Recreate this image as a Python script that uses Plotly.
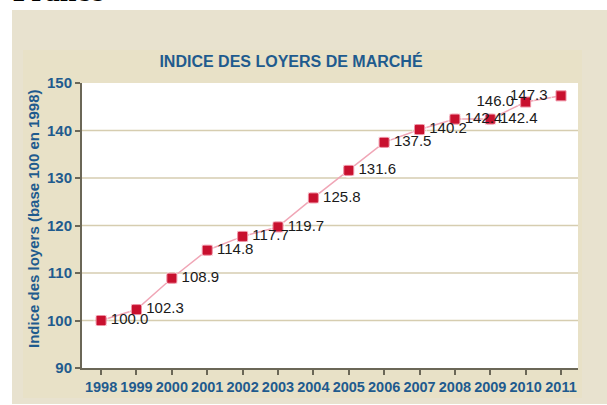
import plotly.graph_objects as go

# ---------------- data ----------------
years = list(range(1998, 2012))
values = [100.0, 102.3, 108.9, 114.8, 117.7, 119.7, 125.8, 131.6,
          137.5, 140.2, 142.4, 142.4, 146.0, 147.3]
value_labels = ["100.0", "102.3", "108.9", "114.8", "117.7", "119.7", "125.8",
                "131.6", "137.5", "140.2", "142.4", "142.4", "146.0", "147.3"]
y_ticks = [90, 100, 110, 120, 130, 140, 150]
grid_levels = [100, 110, 120, 130, 140]
chart_title = "INDICE DES LOYERS DE MARCHÉ"
y_title = "Indice des loyers (base 100 en 1998)"
page_title = "France"

# ---------------- layout geometry ----------------
W, H = 607, 405
L, R, T, B = 82, 578, 83, 368


def px(x):
    return (x - L) / (R - L)


def py(y):
    return (B - y) / (B - T)


BLUE = "#1F5B8E"
AXIS = "#6B6757"
OUTER = "#E8E2CF"
INNER = "#E8E1C7"
GRID = "#D6CDB0"

fig = go.Figure()

# connecting line + markers
fig.add_trace(go.Scatter(
    x=years, y=values, mode="lines+markers",
    line=dict(color="#F0A6B6", width=1.5),
    marker=dict(symbol="square", size=10, color="#C8102E",
                line=dict(color="#EE8FA2", width=1)),
    hoverinfo="x+y", showlegend=False,
))

# value labels (invisible marker sizes only control label offsets)
n = len(years)
positions = ["middle right"] * (n - 2) + ["middle left", "middle left"]
pad_sizes = [14] * (n - 2) + [17, 20]
fig.add_trace(go.Scatter(
    x=years, y=values, mode="markers+text",
    text=value_labels, textposition=positions,
    textfont=dict(family="Liberation Sans, Arial, sans-serif", size=15, color="#1A1A1A"),
    marker=dict(size=pad_sizes, color="rgba(0,0,0,0)"),
    hoverinfo="skip", showlegend=False,
))

shapes = [
    dict(type="rect", xref="paper", yref="paper", x0=px(12), x1=px(W + 5),
         y0=py(10), y1=py(404), fillcolor=OUTER, line=dict(width=0), layer="below"),
    dict(type="rect", xref="paper", yref="paper", x0=px(23), x1=px(582),
         y0=py(50), y1=py(398), fillcolor=INNER, line=dict(width=0), layer="below"),
    dict(type="rect", xref="paper", yref="paper", x0=0, x1=1, y0=0, y1=1,
         fillcolor="white", line=dict(width=0), layer="below"),
]
for g in grid_levels:
    shapes.append(dict(type="line", xref="paper", yref="y", x0=0, x1=1, y0=g, y1=g,
                       line=dict(color=GRID, width=1.5), layer="below"))

annotations = [
    dict(text=y_title, textangle=-90, xref="paper", yref="paper",
         x=px(33), y=py(219), xanchor="center", yanchor="middle", showarrow=False,
         font=dict(family="Liberation Sans, Arial, sans-serif", size=15, color=BLUE,
                   weight="bold")),
    dict(text="<b>" + page_title + "</b>", xref="paper", yref="paper",
         x=px(11), y=py(-10), xanchor="left", yanchor="middle", showarrow=False,
         font=dict(family="Liberation Serif, Times New Roman, serif", size=30, color="black")),
]

fig.update_layout(
    width=W, height=H,
    margin=dict(l=L, r=W - R, t=T, b=H - B, autoexpand=False),
    paper_bgcolor="white", plot_bgcolor="rgba(0,0,0,0)",
    title=dict(text=chart_title, xref="paper", x=px(291), xanchor="center",
               yref="container", y=1 - 61 / H, yanchor="middle",
               font=dict(family="Liberation Sans, Arial, sans-serif", size=16,
                         color=BLUE, weight="bold")),
    shapes=shapes, annotations=annotations,
    xaxis=dict(range=[1997.46, 2011.48], tickvals=years, ticktext=[str(y) for y in years],
               showgrid=False, zeroline=False, showline=True, linecolor=AXIS, linewidth=2,
               ticks="outside", ticklen=5, tickwidth=2, tickcolor=AXIS,
               tickfont=dict(family="Liberation Sans, Arial, sans-serif", size=14.5,
                             color=BLUE, weight="bold"),
               fixedrange=True),
    yaxis=dict(range=[90, 150], tickvals=y_ticks,
               showgrid=False, zeroline=False, showline=True, linecolor=AXIS, linewidth=2,
               ticks="outside", ticklen=5, tickwidth=2, tickcolor=AXIS,
               tickfont=dict(family="Liberation Sans, Arial, sans-serif", size=15,
                             color=BLUE, weight="bold"),
               fixedrange=True),
)

fig.write_html("out.html", config={"displayModeBar": False},
               post_script="document.body.style.margin='0';document.body.style.overflow='hidden';")
